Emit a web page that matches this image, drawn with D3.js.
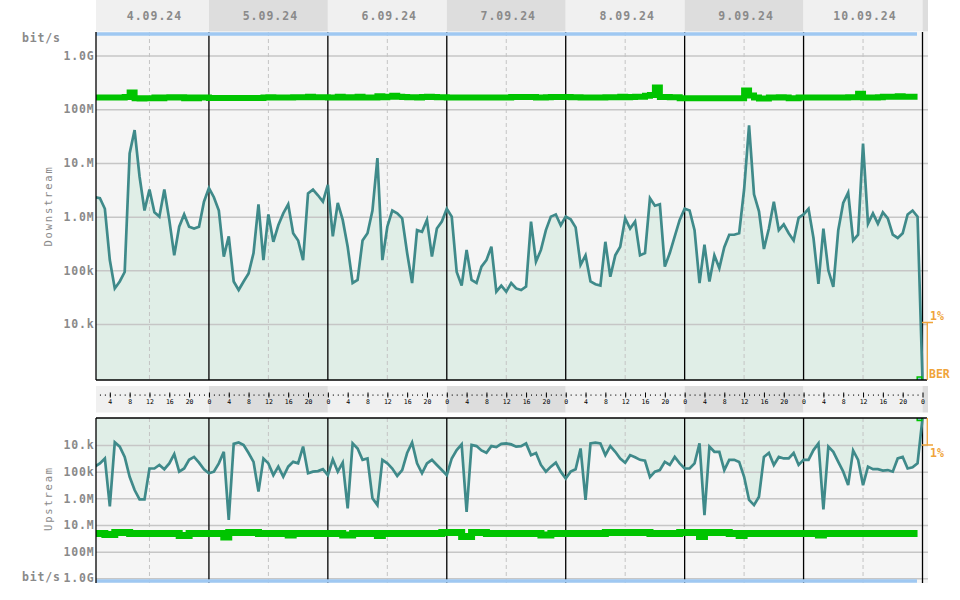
<!DOCTYPE html>
<html>
<head>
<meta charset="utf-8">
<script src="https://cdn.jsdelivr.net/npm/d3@7"></script>
<style>
  body { margin: 0; background: #fff; }
  svg text { font-family: "DejaVu Sans Mono", monospace; }
</style>
</head>
<body>
<div class="chart"></div>
<script>
(function () {

	// Day captions of the header (one per day, 4.09 .. 10.09)
	var dayLabels = ["4.09.24", "5.09.24", "6.09.24", "7.09.24", "8.09.24", "9.09.24", "10.09.24"];

	// Y tick values and their captions
	var tickValues = [1e9, 1e8, 1e7, 1e6, 1e5, 1e4];
	var tickLabels = ["1.0G", "100M", "10.M", "1.0M", "100k", "10.k"];

	// Hourly downstream rate in bit/s, hour 1 .. 168
	var downstream = [
		2.3e6, 2.2e6, 1.4e6, 1.55e5, 4.6e4, 6.2e4, 9.3e4, 1.5e7, 4.1e7, 5.6e6,
		1.3e6, 3.2e6, 1.2e6, 1.0e6, 3.2e6, 8.7e5, 1.9e5, 6.5e5, 1.1e6, 6.5e5,
		6.0e5, 6.5e5, 1.9e6, 3.4e6, 2.3e6, 1.3e6, 1.8e5, 4.3e5, 6.2e4, 4.3e4,
		6.2e4, 8.7e4, 2.1e5, 1.7e6, 1.55e5, 1.1e6, 3.4e5, 6.9e5, 1.15e6, 1.7e6,
		4.9e5, 3.6e5, 1.55e5, 2.7e6, 3.2e6, 2.5e6, 1.9e6, 3.9e6, 4.3e5, 1.8e6,
		8.7e5, 2.75e5, 5.8e4, 6.6e4, 3.6e5, 4.9e5, 1.3e6, 1.23e7, 1.55e5, 6.5e5,
		1.3e6, 1.15e6, 9.3e5, 2.1e5, 5.8e4, 5.6e5, 5.2e5, 8.7e5, 1.8e5, 6.0e5,
		8.1e5, 1.4e6, 1.0e6, 9.3e4, 5.2e4, 2.4e5, 6.6e4, 5.8e4, 1.17e5, 1.55e5,
		2.75e5, 4.0e4, 5.2e4, 4.0e4, 5.8e4, 4.6e4, 4.3e4, 5.0e4, 8.1e5, 1.45e5,
		2.4e5, 5.6e5, 1.0e6, 1.1e6, 6.9e5, 1.0e6, 8.9e5, 6.3e5, 1.26e5, 1.9e5,
		6.2e4, 5.5e4, 5.2e4, 3.4e5, 7.6e4, 1.9e5, 2.75e5, 9.3e5, 6.0e5, 8.1e5,
		1.9e5, 2.1e5, 2.2e6, 1.6e6, 1.7e6, 1.17e5, 2.1e5, 4.3e5, 8.7e5, 1.4e6,
		1.3e6, 5.6e5, 5.8e4, 3.0e5, 6.2e4, 1.9e5, 1.1e5, 2.7e5, 4.6e5, 4.6e5,
		4.9e5, 3.2e6, 5.0e7, 2.6e6, 1.26e6, 2.5e5, 6.0e5, 1.9e6, 5.6e5, 7.2e5,
		4.9e5, 3.6e5, 9.5e5, 1.1e6, 1.4e6, 4.0e5, 5.6e4, 6.0e5, 1.0e5, 4.9e4,
		5.6e5, 1.8e6, 2.8e6, 3.6e5, 4.6e5, 2.3e7, 7.4e5, 1.15e6, 7.4e5, 1.2e6,
		9.3e5, 4.6e5, 4.0e5, 4.9e5, 1.1e6, 1.3e6, 1.0e6, 9.1e2
	];

	// Hourly upstream rate in bit/s, hour 1 .. 168
	var upstream = [
		6.5e4, 4.9e4, 3.2e4, 2.0e6, 7.9e3, 1.15e4, 2.8e4, 1.55e5, 4.9e5, 1.1e6,
		1.1e6, 7.6e4, 7.6e4, 5.6e4, 8.1e4, 4.9e4, 2.2e4, 1.0e5, 7.6e4, 3.6e4,
		2.8e4, 4.6e4, 8.1e4, 1.15e5, 1.0e5, 4.9e4, 1.8e4, 6.5e6, 9.1e3, 8.1e3,
		1.0e4, 2.0e4, 4.3e4, 5.6e5, 3.2e4, 4.9e4, 1.35e5, 6.5e4, 1.55e5, 6.5e4,
		4.3e4, 4.9e4, 1.15e4, 1.15e5, 1.0e5, 9.5e4, 8.1e4, 1.35e5, 3.5e4, 1.0e5,
		4.6e4, 2.4e6, 8.7e3, 1.35e4, 3.6e4, 3.2e4, 1.0e6, 1.8e6, 3.6e4, 4.9e4,
		7.6e4, 1.45e5, 8.7e4, 2.0e4, 8.1e3, 4.9e4, 1.15e5, 4.9e4, 3.6e4, 5.6e4,
		8.7e4, 1.35e5, 3.2e4, 1.55e4, 9.5e3, 3.2e6, 1.0e4, 1.1e4, 1.6e4, 1.95e4,
		1.1e4, 1.2e4, 9.1e3, 8.7e3, 9.5e3, 1.15e4, 1.1e4, 8.7e3, 2.4e4, 2.0e4,
		5.6e4, 1.0e5, 6.5e4, 4.6e4, 1.0e5, 1.8e5, 1.0e5, 8.1e4, 1.35e4, 1.15e6,
		8.7e3, 8.1e3, 8.7e3, 2.4e4, 1.1e4, 1.8e4, 3.2e4, 4.6e4, 2.4e4, 2.9e4,
		3.6e4, 3.9e4, 1.6e5, 1.0e5, 8.7e4, 4.3e4, 5.6e4, 2.8e4, 4.9e4, 7.6e4,
		7.6e4, 4.9e4, 8.7e3, 4.3e6, 1.15e4, 1.8e4, 1.8e4, 8.7e4, 3.6e4, 3.6e4,
		4.3e4, 1.55e5, 1.15e6, 1.8e6, 8.7e5, 2.8e4, 2.0e4, 5.6e4, 2.8e4, 3.2e4,
		3.2e4, 2.0e4, 5.6e4, 3.6e4, 3.6e4, 1.55e4, 8.7e3, 2.6e6, 1.15e4, 1.8e4,
		4.3e4, 1.0e5, 3.2e5, 1.6e4, 3.6e4, 3.2e5, 6.5e4, 8.1e4, 8.1e4, 9.1e4,
		8.7e4, 1.0e5, 3.2e4, 2.8e4, 7.6e4, 6.9e4, 4.9e4, 1.0e3
	];

	// Hourly attainable rate (green) in Mbit/s, hour 1 .. 167
	var downSyncMbit = [
		165, 165, 165, 165, 165, 165, 170, 205, 160, 158, 160, 160, 165, 160, 165, 168, 165, 168, 160, 165, 160, 165, 165, 162,
		162, 162, 162, 162, 162, 162, 162, 162, 162, 162, 165, 168, 165, 165, 165, 165, 168, 168, 168, 172, 168, 168, 168, 165,
		165, 172, 165, 168, 165, 172, 165, 165, 165, 175, 168, 172, 178, 172, 170, 168, 168, 165, 170, 172, 170, 168, 168, 165,
		165, 165, 165, 165, 165, 165, 165, 165, 165, 165, 165, 165, 170, 170, 170, 170, 170, 165, 165, 168, 170, 170, 170, 170,
		168, 168, 165, 165, 165, 165, 165, 168, 168, 168, 172, 168, 170, 172, 172, 178, 185, 255, 170, 170, 168, 168, 160, 160,
		160, 160, 160, 160, 160, 160, 160, 160, 160, 160, 160, 225, 180, 165, 158, 158, 165, 165, 168, 165, 160, 160, 165, 165,
		165, 165, 165, 165, 165, 165, 165, 165, 168, 168, 195, 165, 165, 165, 168, 172, 172, 172, 175, 172, 172, 172, 172
	];
	var upSyncMbit = [
		21, 21, 23, 23, 19, 19, 19, 21, 21, 21, 21, 21, 21, 21, 21, 21, 21, 25, 25, 21, 21, 21, 21, 21,
		21, 21, 28, 19, 19, 19, 19, 19, 19, 21, 21, 21, 21, 21, 21, 24, 21, 21, 21, 21, 21, 21, 21, 21,
		21, 21, 24, 24, 21, 21, 21, 21, 21, 25, 21, 21, 21, 21, 21, 21, 21, 21, 21, 21, 21, 21, 19, 19,
		19, 19, 27, 27, 19, 19, 19, 21, 21, 21, 21, 21, 21, 21, 21, 21, 21, 21, 24, 24, 21, 21, 21, 21,
		21, 21, 21, 21, 21, 21, 21, 19, 19, 19, 19, 19, 19, 19, 19, 19, 21, 21, 21, 21, 21, 21, 19, 19,
		19, 19, 27, 19, 19, 19, 19, 19, 21, 21, 25, 21, 21, 21, 21, 21, 21, 21, 21, 21, 21, 21, 21, 21,
		21, 21, 24, 21, 21, 21, 21, 21, 21, 21, 21, 21, 21, 21, 21, 21, 21, 21, 21, 21, 21, 21, 21
	];

	// Layout
	var width = 960, height = 600;
	var left = 96, right = 928;
	var top1 = 32, bottom1 = 380;   // downstream panel
	var top2 = 418, bottom2 = 583;  // upstream panel

	var colors = {
		light: "#f0f0f0", dark: "#dddddd", plot: "#f5f5f5", grid: "#c6c6c6",
		fill: "#e0eee7", line: "#3f8a8a", sync: "#00c400", max: "#9fc8f2",
		text: "#8a8a8a", ber: "#f0a43a"
	};

	// Hours since 4.09 00:00 -> pixels
	var x = d3.scaleLinear().domain([0, 168]).range([90, 922.5]);
	var yDown = d3.scaleLog().domain([1e4, 1e9]).range([324, 55.6]);
	var yUp = d3.scaleLog().domain([1e4, 1e9]).range([445, 578.3]);

	function rows(arr, scale) {
		return arr.map(function (v, i) { return { h: i + 1, v: v * (scale || 1) }; });
	}
	var downRows = rows(downstream), upRows = rows(upstream);
	var downSyncRows = rows(downSyncMbit, 1e6), upSyncRows = rows(upSyncMbit, 1e6);

	var svg = d3.select(".chart").append("svg")
		.attr("width", width)
		.attr("height", height);

	// Day cells (7 days plus the start of 11.09)
	var cells = d3.range(8).map(function (i) {
		return {
			i: i,
			x0: Math.max(left, x(i * 24)),
			x1: Math.min(right, x((i + 1) * 24))
		};
	});

	// Header with dates
	svg.append("g").selectAll("rect")
		.data(cells).enter().append("rect")
		.attr("x", function (d) { return d.x0; })
		.attr("y", 0)
		.attr("width", function (d) { return d.x1 - d.x0; })
		.attr("height", 31.5)
		.attr("fill", function (d) { return d.i % 2 ? colors.dark : colors.light; });

	svg.append("g").selectAll("text")
		.data(cells.slice(0, 7)).enter().append("text")
		.attr("x", function (d) { return (d.x0 + d.x1) / 2 + 2; })
		.attr("y", 20)
		.attr("text-anchor", "middle")
		.attr("fill", colors.text)
		.style("font-size", "11.5px")
		.style("font-weight", "bold")
		.style("letter-spacing", "1px")
		.text(function (d) { return dayLabels[d.i]; });

	// Strip between the panels
	svg.append("g").selectAll("rect")
		.data(cells).enter().append("rect")
		.attr("x", function (d) { return d.x0; })
		.attr("y", 386)
		.attr("width", function (d) { return d.x1 - d.x0; })
		.attr("height", 26.5)
		.attr("fill", function (d) { return d.i % 2 ? colors.dark : colors.light; });

	// Panel backgrounds
	svg.append("rect").attr("x", left).attr("y", top1)
		.attr("width", right - left).attr("height", bottom1 - top1).attr("fill", colors.plot);
	svg.append("rect").attr("x", left).attr("y", top2)
		.attr("width", right - left).attr("height", bottom2 - top2).attr("fill", colors.plot);

	// Clip paths
	var defs = svg.append("defs");
	defs.append("clipPath").attr("id", "clipDown").append("rect")
		.attr("x", left).attr("y", top1).attr("width", right - left).attr("height", bottom1 - top1);
	defs.append("clipPath").attr("id", "clipUp").append("rect")
		.attr("x", left).attr("y", top2).attr("width", right - left).attr("height", bottom2 - top2);

	var gDown = svg.append("g").attr("clip-path", "url(#clipDown)");
	var gUp = svg.append("g").attr("clip-path", "url(#clipUp)");

	// Areas
	gDown.append("path")
		.datum(downRows)
		.attr("fill", colors.fill)
		.attr("d", d3.area()
			.x(function (d) { return x(d.h); })
			.y0(bottom1)
			.y1(function (d) { return yDown(d.v); }));

	gUp.append("path")
		.datum(upRows)
		.attr("fill", colors.fill)
		.attr("d", d3.area()
			.x(function (d) { return x(d.h); })
			.y0(top2)
			.y1(function (d) { return yUp(d.v); }));

	// Horizontal grid
	function grid(g, scale) {
		g.attr("transform", "translate(" + left + ",0)")
			.call(d3.axisLeft(scale).tickValues(tickValues).tickSize(-(right - left)).tickFormat(""))
			.call(function (s) { s.select(".domain").remove(); })
			.selectAll("line").attr("stroke", colors.grid).attr("stroke-width", 1.5);
	}
	grid(gDown.append("g"), yDown);
	grid(gUp.append("g"), yUp);

	// Noon dashed lines and midnight lines
	var noons = d3.range(7).map(function (i) { return i * 24 + 12; });
	var midnights = d3.range(1, 8).map(function (i) { return i * 24; });

	[[gDown, top1, bottom1], [gUp, top2, bottom2]].forEach(function (p) {
		p[0].append("g").selectAll("line")
			.data(noons).enter().append("line")
			.attr("x1", function (d) { return x(d); })
			.attr("x2", function (d) { return x(d); })
			.attr("y1", p[1]).attr("y2", p[2])
			.attr("stroke", "#c4c4c4")
			.attr("stroke-dasharray", "4,3");
		p[0].append("g").selectAll("line")
			.data(midnights).enter().append("line")
			.attr("x1", function (d) { return x(d); })
			.attr("x2", function (d) { return x(d); })
			.attr("y1", p[1]).attr("y2", p[2])
			.attr("stroke", "#000")
			.attr("stroke-width", 1.3);
	});

	// Attainable rate (green steps)
	gDown.append("path")
		.datum(downSyncRows)
		.attr("fill", "none")
		.attr("stroke", colors.sync)
		.attr("stroke-width", 6)
		.attr("d", d3.line().curve(d3.curveStepAfter)
			.x(function (d) { return x(d.h); })
			.y(function (d) { return yDown(d.v); }));

	gUp.append("path")
		.datum(upSyncRows)
		.attr("fill", "none")
		.attr("stroke", colors.sync)
		.attr("stroke-width", 7)
		.attr("d", d3.line().curve(d3.curveStepAfter)
			.x(function (d) { return x(d.h); })
			.y(function (d) { return yUp(d.v); }));

	// Throughput lines
	gDown.append("path")
		.datum(downRows)
		.attr("fill", "none")
		.attr("stroke", colors.line)
		.attr("stroke-width", 2.7)
		.attr("d", d3.line()
			.x(function (d) { return x(d.h); })
			.y(function (d) { return yDown(d.v); }));

	gUp.append("path")
		.datum(upRows)
		.attr("fill", "none")
		.attr("stroke", colors.line)
		.attr("stroke-width", 2.7)
		.attr("d", d3.line()
			.x(function (d) { return x(d.h); })
			.y(function (d) { return yUp(d.v); }));

	// End markers
	[[377, gDown], [415, gUp]].forEach(function (m) {
		m[1].append("rect")
			.attr("x", 917.2).attr("y", m[0])
			.attr("width", 4.6).attr("height", 5.5)
			.attr("fill", "#8dbbe6")
			.attr("stroke", colors.sync)
			.attr("stroke-width", 1.5);
	});

	// Max lines (light blue) at panel edges
	svg.append("line")
		.attr("x1", left).attr("x2", 917).attr("y1", 34).attr("y2", 34)
		.attr("stroke", colors.max).attr("stroke-width", 3.4);
	svg.append("line")
		.attr("x1", left).attr("x2", 917).attr("y1", 581).attr("y2", 581)
		.attr("stroke", colors.max).attr("stroke-width", 3.4);

	// Panel frames
	svg.append("line").attr("x1", left).attr("x2", left).attr("y1", top1).attr("y2", bottom1)
		.attr("stroke", "#000").attr("stroke-width", 1.3);
	svg.append("line").attr("x1", left).attr("x2", left).attr("y1", top2).attr("y2", bottom2)
		.attr("stroke", "#000").attr("stroke-width", 1.3);
	svg.append("line").attr("x1", left).attr("x2", right - 1).attr("y1", bottom1).attr("y2", bottom1)
		.attr("stroke", "#000").attr("stroke-width", 1.3);
	svg.append("line").attr("x1", left).attr("x2", right - 1).attr("y1", top2).attr("y2", top2)
		.attr("stroke", "#000").attr("stroke-width", 1.3);

	// Y axes
	function yAxis(scale) {
		return function (g) {
			g.attr("transform", "translate(" + left + ",0)")
				.call(d3.axisLeft(scale).tickValues(tickValues).tickSize(0).tickPadding(1.5)
					.tickFormat(function (d, i) { return tickLabels[i]; }))
				.call(function (s) { s.select(".domain").remove(); });
			g.selectAll("text")
				.attr("fill", colors.text)
				.style("font-size", "11.5px")
				.style("font-weight", "bold")
				.style("letter-spacing", "0.8px");
		};
	}
	svg.append("g").call(yAxis(yDown));
	svg.append("g").call(yAxis(yUp));

	// Units and panel titles
	[[42, "bit/s"], [580.5, "bit/s"]].forEach(function (t) {
		svg.append("text")
			.attr("x", 22).attr("y", t[0])
			.attr("fill", colors.text)
			.style("font-size", "11.5px")
			.style("font-weight", "bold")
			.style("letter-spacing", "0.8px")
			.text(t[1]);
	});

	[[(top1 + bottom1) / 2, "Downstream"], [(top2 + bottom2) / 2 - 2, "Upstream"]].forEach(function (t) {
		svg.append("text")
			.attr("transform", "translate(51.7," + t[0] + ") rotate(-90)")
			.attr("text-anchor", "middle")
			.attr("fill", colors.text)
			.style("font-size", "10.5px")
			.style("letter-spacing", "1.8px")
			.text(t[1]);
	});

	// Hour strip axis
	var hourAxis = svg.append("g")
		.attr("transform", "translate(0,392.5)")
		.call(d3.axisBottom(x).tickValues(d3.range(4, 169, 4)).tickSize(5).tickPadding(1.5)
			.tickFormat(function (d) { return d % 24; }));
	hourAxis.select(".domain").remove();
	hourAxis.selectAll("line").attr("stroke", "#000");
	hourAxis.selectAll("text").attr("fill", "#000").style("font-size", "6.5px");

	var dotAxis = svg.append("g")
		.attr("transform", "translate(0,394.5)")
		.call(d3.axisBottom(x).tickValues(d3.range(2, 168)).tickSize(1.2).tickFormat(""));
	dotAxis.select(".domain").remove();
	dotAxis.selectAll("line").attr("stroke", "#000");

	// BER scale on the right
	var ber = svg.append("g").attr("stroke", colors.ber).attr("stroke-width", 1.3).attr("fill", "none");
	ber.append("path").attr("d", "M922,322.5H933M927.3,322.5V380");
	ber.append("path").attr("d", "M922,445H933M927.3,418V445");

	[[930, 320, "1%"], [929, 378, "BER"], [930, 457, "1%"]].forEach(function (t) {
		svg.append("text")
			.attr("x", t[0]).attr("y", t[1])
			.attr("fill", colors.ber)
			.style("font-size", "11.5px")
			.style("font-weight", "bold")
			.text(t[2]);
	});

})();
</script>
</body>
</html>
